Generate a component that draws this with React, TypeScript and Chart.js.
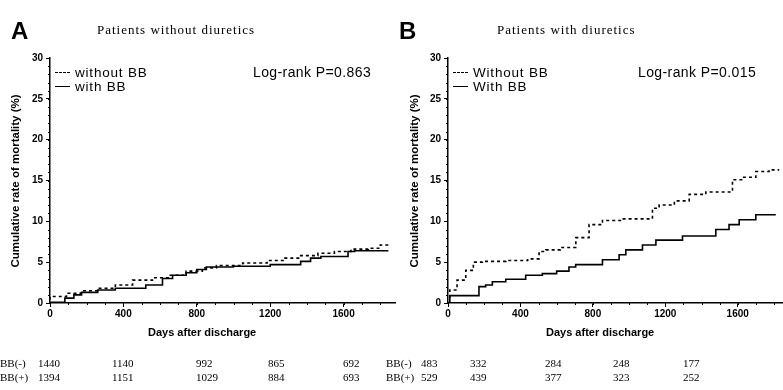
import React, { useEffect, useRef } from "react";
import { Chart, registerables } from "chart.js";

Chart.register(...registerables);

// ---- data ----
const xTicks = [0, 400, 800, 1200, 1600];
const yTicks = [0, 5, 10, 15, 20, 25, 30];

const aDaysWithout = [0, 90, 170, 260, 356, 450, 558, 650, 742, 830, 907, 1050, 1183, 1280, 1366, 1460, 1550, 1640, 1734, 1800, 1844];
const aWithout = [0.4, 0.8, 1.2, 1.5, 1.8, 2.2, 2.8, 3.1, 3.4, 3.9, 4.3, 4.6, 4.9, 5.2, 5.5, 5.8, 6.1, 6.3, 6.6, 6.7, 7.1];
const aDaysWith = [0, 81, 130, 172, 260, 356, 440, 522, 613, 668, 742, 800, 852, 999, 1200, 1366, 1420, 1476, 1624, 1660, 1750, 1844];
const aWith = [0, 0.1, 0.6, 1.0, 1.3, 1.6, 1.8, 1.8, 2.2, 3.0, 3.4, 3.7, 4.1, 4.4, 4.5, 4.7, 5.1, 5.5, 5.7, 6.3, 6.4, 6.4];

const bDaysWithout = [10, 50, 98, 140, 190, 320, 440, 503, 540, 620, 706, 779, 853, 963, 1129, 1166, 1250, 1332, 1424, 1571, 1626, 1700, 1773, 1829];
const bWithout = [0.6, 1.6, 2.8, 4.0, 5.0, 5.1, 5.2, 5.4, 6.3, 6.5, 6.8, 8.0, 9.6, 10.1, 10.3, 11.6, 12.0, 12.5, 13.3, 13.6, 15.1, 15.4, 16.1, 16.3];
const bDaysWith = [10, 79, 171, 208, 245, 319, 429, 521, 600, 668, 705, 853, 945, 982, 1074, 1148, 1295, 1479, 1552, 1608, 1700, 1810];
const bWith = [0, 0.9, 0.9, 2.0, 2.2, 2.6, 2.9, 3.4, 3.6, 3.9, 4.4, 4.7, 5.3, 5.9, 6.5, 7.1, 7.7, 8.2, 9.0, 9.6, 10.2, 10.8];

const aCountsMinus = ["1440", "1140", "992", "865", "692"];
const aCountsPlus = ["1394", "1151", "1029", "884", "693"];
const bCountsMinus = ["483", "332", "284", "248", "177"];
const bCountsPlus = ["529", "439", "377", "323", "252"];

const SANS = '"Liberation Sans", Arial, sans-serif';
const SERIF = '"Liberation Serif", "Times New Roman", serif';

const toPts = (xs: number[], ys: number[]) => xs.map((x, i) => ({ x, y: ys[i] }));

const minorTicks = {
  id: "minorTicks",
  afterDraw(chart: any) {
    const { ctx, scales } = chart;
    const x = scales.x, y = scales.y;
    ctx.save();
    ctx.strokeStyle = "#000";
    ctx.lineWidth = 1;
    ctx.beginPath();
    for (let v = 0; v <= 30; v += 1) {
      const py = Math.round(y.getPixelForValue(v)) + 0.5;
      ctx.moveTo(x.left - 2, py);
      ctx.lineTo(x.left, py);
    }
    for (let d = 0; d <= x.max; d += 100) {
      const px = Math.round(x.getPixelForValue(d)) + 0.5;
      ctx.moveTo(px, y.bottom);
      ctx.lineTo(px, y.bottom + 2);
    }
    ctx.stroke();
    ctx.restore();
  },
};

function makeChart(canvas: HTMLCanvasElement, dashed: any[], solid: any[], xMax: number, yWidth: number, padRight: number) {
  return new Chart(canvas, {
    type: "line",
    data: {
      datasets: [
        {
          label: "without BB",
          data: dashed,
          borderColor: "#000",
          borderWidth: 1.6,
          borderDash: [3, 3],
          pointRadius: 0,
          stepped: "after",
          fill: false,
        },
        {
          label: "with BB",
          data: solid,
          borderColor: "#000",
          borderWidth: 1.6,
          pointRadius: 0,
          stepped: "after",
          fill: false,
        },
      ],
    },
    options: {
      animation: false,
      responsive: false,
      devicePixelRatio: 1,
      layout: { padding: { top: 58, left: 0, right: padRight, bottom: 57 } },
      plugins: { legend: { display: false }, tooltip: { enabled: false }, title: { display: false } },
      scales: {
        x: {
          type: "linear",
          min: 0,
          max: xMax,
          afterFit: (s: any) => { s.height = 30; },
          afterBuildTicks: (s: any) => { s.ticks = xTicks.map((v) => ({ value: v })); },
          ticks: {
            color: "#000",
            font: { family: SANS, size: 10, weight: "bold" },
            padding: 1,
            maxRotation: 0,
            callback: (v: any) => String(v),
          },
          grid: { display: true, drawOnChartArea: false, drawTicks: true, tickLength: 4, color: "#000" },
          border: { color: "#000", width: 1.5 },
        },
        y: {
          type: "linear",
          min: 0,
          max: 30,
          afterFit: (s: any) => { s.width = yWidth; },
          afterBuildTicks: (s: any) => { s.ticks = yTicks.map((v) => ({ value: v })); },
          ticks: { color: "#000", font: { family: SANS, size: 10, weight: "bold" }, padding: 3, callback: (v: any) => String(v) },
          grid: { display: true, drawOnChartArea: false, drawTicks: true, tickLength: 4, color: "#000" },
          border: { color: "#000", width: 1.5 },
        },
      },
    },
    plugins: [minorTicks],
  } as any);
}

const txt = (s: string, left: number, top: number, size: number, extra: any = {}) => (
  <div
    style={{
      position: "absolute",
      left,
      top,
      fontSize: size,
      lineHeight: 1,
      fontFamily: SANS,
      color: "#000",
      whiteSpace: "nowrap",
      ...extra,
    }}
  >
    {s}
  </div>
);

function Legend({ left, labels }: { left: number; labels: string[] }) {
  return (
    <>
      <div style={{ position: "absolute", left, top: 72, width: 15, borderTop: "1.6px dashed #000" }} />
      {txt(labels[0], left + 20, 66, 13.5, { letterSpacing: 0.8 })}
      <div style={{ position: "absolute", left, top: 86, width: 15, borderTop: "1.6px solid #000" }} />
      {txt(labels[1], left + 20, 80, 13.5, { letterSpacing: 0.8 })}
    </>
  );
}

function Counts({ xs, minus, plus, labelLeft }: { xs: number[]; minus: string[]; plus: string[]; labelLeft: number }) {
  return (
    <>
      {txt("BB(-)", labelLeft, 358, 11, { fontFamily: SERIF })}
      {txt("BB(+)", labelLeft, 372, 11, { fontFamily: SERIF })}
      {minus.map((c, i) => (
        <React.Fragment key={i}>
          {txt(c, xs[i], 358, 11, { fontFamily: SERIF })}
          {txt(plus[i], xs[i], 372, 11, { fontFamily: SERIF })}
        </React.Fragment>
      ))}
    </>
  );
}

export default function App() {
  const refA = useRef<HTMLCanvasElement>(null);
  const refB = useRef<HTMLCanvasElement>(null);

  useEffect(() => {
    const a = makeChart(refA.current!, toPts(aDaysWithout, aWithout), toPts(aDaysWith, aWith), 1880, 50, 5);
    const b = makeChart(refB.current!, toPts(bDaysWithout, bWithout), toPts(bDaysWith, bWith), 1850, 48, 0);
    return () => {
      a.destroy();
      b.destroy();
    };
  }, []);

  const yTitle = (cx: number) => (
    <div
      style={{
        position: "absolute",
        left: cx - 110,
        top: 181 - 6,
        width: 220,
        textAlign: "center",
        fontSize: 11.5,
        fontWeight: "bold",
        lineHeight: "12px",
        fontFamily: SANS,
        transform: "rotate(-90deg)",
        whiteSpace: "nowrap",
      }}
    >
      Cumulative rate of mortality (%)
    </div>
  );

  return (
    <div style={{ position: "fixed", left: 0, top: 0, width: 783, height: 390, background: "#fff", overflow: "hidden" }}>
      <canvas ref={refA} width={400} height={390} style={{ position: "absolute", left: 0, top: 0, width: 400, height: 390 }} />
      <canvas ref={refB} width={383} height={390} style={{ position: "absolute", left: 400, top: 0, width: 383, height: 390 }} />

      {txt("A", 11, 19, 24, { fontWeight: "bold" })}
      {txt("Patients without diuretics", 97, 23, 13, { fontFamily: SERIF, letterSpacing: 1 })}
      {txt("B", 399, 19, 24, { fontWeight: "bold" })}
      {txt("Patients with diuretics", 497, 23, 13, { fontFamily: SERIF, letterSpacing: 1 })}

      <Legend left={55} labels={["without BB", "with BB"]} />
      <Legend left={453} labels={["Without BB", "With BB"]} />
      {txt("Log-rank P=0.863", 253, 65, 14, { letterSpacing: 0.4 })}
      {txt("Log-rank P=0.015", 638, 65, 14, { letterSpacing: 0.4 })}

      {yTitle(15)}
      {yTitle(414)}
      {txt("Days after discharge", 148, 327, 11, { fontWeight: "bold" })}
      {txt("Days after discharge", 546, 327, 11, { fontWeight: "bold" })}

      <Counts xs={[38, 112, 196, 268, 343]} minus={aCountsMinus} plus={aCountsPlus} labelLeft={0} />
      <Counts xs={[421, 470, 545, 613, 683]} minus={bCountsMinus} plus={bCountsPlus} labelLeft={386} />
    </div>
  );
}
